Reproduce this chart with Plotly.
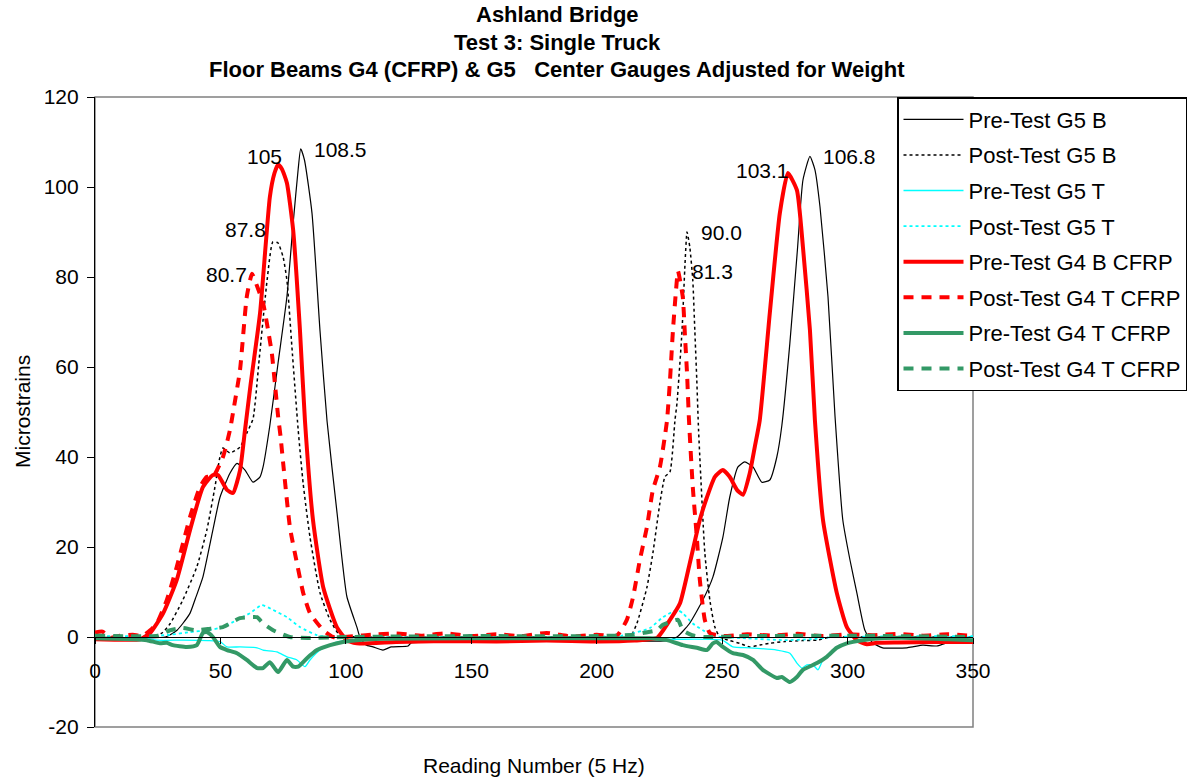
import plotly.graph_objects as go

# ---- Readings (5 Hz) and strains, one list pair per gauge ----
pre_g5b_x = [0, 10, 20, 28, 30, 32.7, 35, 37.9, 40, 43, 47, 49.8, 53.8, 56.6, 59.8, 63, 65.8, 67, 69.7, 73,
             76.5, 79, 81, 82, 83.5, 86.5, 89.7, 92.5, 96.5, 100.4, 104.4, 105.6, 108, 110.8, 114.8, 118,
             124.8, 126, 132, 140, 150, 160, 180, 200, 215, 228, 232, 237, 242.3, 246.3, 250.3, 253, 256.3,
             259, 262.3, 265.8, 269, 271.8, 273.8, 277, 280, 282.2, 285, 287, 289, 292.2, 295, 298.1, 301,
             303.7, 306.9, 310, 314, 323.6, 326, 330, 335.6, 339.6, 344.8, 348.7, 350]
pre_g5b_y = [-0.3, -0.3, -0.2, 0, 0.5, 1.5, 3, 5.3, 8.5, 13.3, 23.8, 31, 36.4, 38.6, 37.1, 34.4, 35.6, 37.8, 47, 61,
             75.6, 92, 104, 108.5, 106, 94.2, 68, 48, 27.5, 9, 2.2, 0, -1.8, -2.2, -2.9, -2.2,
             -2.0, -1.3, -1.1, -0.9, -0.7, -0.5, -0.4, -0.6, -0.9, -0.8, 0, 3, 8.2, 13.3, 22.2, 31, 37.8,
             38.9, 37.8, 34.4, 34.9, 40, 47, 65.3, 86, 101.5, 106.8, 103.8, 95.6, 75.6, 49, 26, 17,
             9.8, 1.5, -1.3, -2.4, -2.4, -2.2, -1.8, -2.0, -1.3, -1.3, -1.1, -1.2]

post_g5b_x = [0, 20, 24.6, 27, 30, 35, 40.6, 44.6, 47.8, 49.8, 51, 53.8, 57.8, 60.5, 63, 65.5, 68.6, 70.9, 72.9,
              75, 76.5, 78.5, 81, 83, 85.7, 89.7, 93.7, 97.6, 105, 150, 200, 213.2, 216, 220, 222.4, 225.2,
              227.2, 229.2, 231.2, 232, 234, 235.2, 236, 237.1, 238.3, 239.1, 239.9, 240.6, 243.1, 245.1,
              247.1, 249.1, 253, 257, 261, 265, 269, 275, 282, 287.8, 293, 300, 350]
post_g5b_y = [0, 0, 0.3, 1, 3, 8.2, 15.6, 23.8, 33.3, 40, 42, 40.9, 42.2, 45.3, 48.5, 62, 79.3, 87.8, 87.6,
              84.4, 79.3, 64.4, 46, 34, 22.2, 9.8, 3.8, 0.4, 0, 0, 0, 0, 3, 11, 18.7, 29.8,
              35.6, 36.7, 48.2, 52, 68, 83, 90.0, 86.7, 79.3, 68.2, 57, 46, 18.7, 8.2,
              2.2, 0, -0.8, -1.4, -2.2, -1.8, -1.4, -1.0, -0.8, -0.7, 0, 0, 0]

pre_g5t_x = [0, 20, 24.6, 35, 45, 49.8, 52.6, 57.8, 64.6, 67, 72.5, 76.5, 80.5, 83.7, 85.7, 89.7, 94.9, 100.4,
             110, 150, 200, 230, 250, 254.3, 261, 271.8, 277, 279.8, 281.8, 283.8, 286.2, 288.2, 290.2,
             294.1, 299.7, 305, 320, 350]
pre_g5t_y = [-0.2, -0.2, -0.7, -0.7, -0.8, -1.0, -2.2, -2.2, -2.4, -2.9, -3.3, -4.4, -5.1, -6.6, -5.1, -2.9, -1.4, -0.7,
             -0.3, -0.2, -0.2, -0.5, -0.7, -2.2, -2.4, -2.9, -3.6, -5.8, -6.9, -6.2, -6.2, -7.3, -5.1,
             -2.9, -1.4, -0.7, -0.2, 0]

post_g5t_x = [0, 20, 30, 37.9, 45, 51, 56.6, 61.8, 66.5, 71, 76.5, 81.7, 88.5, 95, 150, 210, 221.2, 226.4,
              232, 234.3, 238.3, 242.3, 247, 260, 275, 285, 295, 350]
post_g5t_y = [0.2, 0.2, 0.5, 1.1, 1.5, 2.2, 3.8, 5.3, 7.1, 6, 4.4, 2.2, 0.4, 0, 0, 0.3, 2, 4.4,
              6, 5.3, 3, 1.5, 0.2, -0.3, -0.7, -0.5, 0, 0.2]

pre_g4b_x = [0, 10, 18, 22, 27.2, 32.6, 37.9, 43, 47, 49, 52.6, 55, 57.8, 59.8, 62, 65.8, 69.7, 71.5, 73,
             74.5, 76.5, 79, 81.7, 83.7, 86.9, 91, 96.4, 100.4, 104.4, 120, 140, 160, 180, 200, 215, 224,
             229.2, 233.2, 237.1, 241.1, 243.9, 247.1, 250.3, 253, 255.9, 258.3, 261, 263, 265, 269, 273,
             276.2, 279.8, 282.2, 285, 287, 290.2, 295.7, 299.7, 303.7, 307.7, 311.6, 320, 335, 350]
pre_g4b_y = [-0.5, -0.6, -0.5, 0.9, 5.3, 12.7, 23.8, 33.3, 36, 36, 32.7, 32, 37, 46, 56, 72, 97.8, 103, 105.0,
             104, 100.9, 90.4, 68.2, 48, 26, 11, 2.2, -0.7, -1.4, -1.1, -0.9, -1.0, -0.8, -1.0, -0.8, -0.2,
             3.8, 7.5, 16.4, 26, 31, 35.6, 37.1, 35.6, 32.7, 31.6, 36.4, 42.2, 48.2, 72, 94.2,
             103.1, 99.3, 86.7, 68.2, 48, 26, 9.8, 2.2, -0.7, -1.6, -1.3, -1.2, -1.1, -1.1]

post_g4t_red_x = [0, 3, 6, 10, 15, 19, 22, 24.6, 28.6, 32.6, 37.9, 41.8, 44.6, 47, 51, 53.8, 55, 57.8, 60.5,
                  62.6, 64.6, 67, 69, 70.5, 71.7, 73, 74, 75, 77.7, 80.5, 83, 85.7, 91, 95, 110, 120, 130,
                  140, 150, 160, 170, 180, 190, 200, 208, 212, 214.5, 217.2, 220, 222.4, 225.2, 228, 229.2,
                  230.4, 231.6, 232.4, 234.3, 235.2, 236, 236.8, 238.3, 239.9, 241.1, 243.1, 245.1, 250,
                  260, 270, 280, 290, 300, 310, 320, 330, 340, 350]
post_g4t_red_y = [1.0, 1.2, -0.2, 0.3, 0.5, 0.3, 1.5, 3, 8.2, 15.6, 26.7, 33.3, 35.6, 35.6, 40, 46, 49.8, 59.3, 75.6,
                  80.7, 78, 74.2, 68.2, 63, 56.4, 49, 44.4, 38.7, 24.4, 16.4, 9.8, 5.3, 1.5, 0, 0.5, 0.8, 0.3,
                  0.8, 0.2, 0.6, 0.2, 0.9, 0.1, 0.5, 0.3, 3.8, 8.9, 17.1, 24.4, 32.7, 37.8, 48, 57,
                  68.2, 77, 81.3, 75.6, 66.7, 58.7, 48, 33.3, 22.2, 12.7, 3.8, 0.9, 0.2,
                  0.6, 0.3, 0.7, 0.2, 0.6, 0.4, 0.7, 0.3, 0.6, 0.2]

pre_g4t_x = [0, 15, 20.7, 25.9, 28.6, 31, 36.6, 40.6, 43, 44.6, 47, 49.8, 52.6, 56.6, 60.5, 64.6, 67, 69.7, 73,
             76.5, 79, 81, 84.5, 88.5, 93.7, 98.8, 104.4, 115, 150, 200, 221, 228, 234.3, 239.9, 243.9,
             246.3, 247.8, 250.3, 254.3, 258.3, 262.3, 266.2, 271.8, 273.8, 277, 279.8, 282.2, 287.8,
             291.7, 295.7, 299.7, 306, 313, 325, 340, 350]
pre_g4t_y = [-0.3, -0.5, -0.7, -1.4, -1.3, -1.8, -2.2, -1.8, 0.9, 1.1, 0, -2.2, -2.9, -3.6, -5.1, -6.9, -6.9, -5.6, -7.8,
             -5.1, -6.6, -6.6, -4.7, -2.9, -1.8, -1.1, -0.7, -0.4, -0.3, -0.3, -0.3, -0.7, -1.8, -2.4, -2.9,
             -1.4, -1.1, -2.2, -3.6, -4.0, -5.1, -7.3, -9.1, -8.9, -10.0, -8.9, -7.3, -5.8,
             -4.4, -2.4, -1.4, -0.7, -0.3, -0.2, -0.5, -0.7]

post_g4t_green_x = [0, 25, 30, 35, 40, 45, 51, 57.8, 64.6, 67, 71, 77.7, 85, 100, 150, 200, 215, 218.4, 224,
                    226.4, 232.4, 234.3, 238, 243, 260, 300, 350]
post_g4t_green_y = [0.3, 0.3, 1.5, 2, 1.5, 1.8, 2.2, 4.2, 4.4, 3, 1.5, 0, -0.2, 0, 0.2, 0.2, 0.5, 0.9, 1.5,
                    2.7, 3.8, 1.5, 0.4, 0, 0.2, 0.3, 0]

series_names = ["Pre-Test G5 B", "Post-Test G5 B", "Pre-Test G5 T", "Post-Test G5 T",
                "Pre-Test G4 B CFRP", "Post-Test G4 T CFRP", "Pre-Test G4 T CFRP", "Post-Test G4 T CFRP"]

y_ticks = [-20, 0, 20, 40, 60, 80, 100, 120]

# peak labels: (series index, reading of labelled point, decimals, x offset px, y offset px)
peak_labels = [
    (0, 82, 1, 40, -1), (4, 73, 0, -14, 8), (1, 70.9, 1, -27, 12), (5, 62.6, 1, -26, -1),
    (1, 236, 1, 34, 0), (5, 232.4, 1, 35, 0), (4, 276.2, 1, -25, 3), (0, 285, 1, 40, 0),
]

FONT = "Liberation Sans, Arial, sans-serif"
FS = 21
RED = "#FF0000"
GREEN = "#339966"
CYAN = "#00FFFF"

data = [
    (pre_g5b_x, pre_g5b_y, dict(color="black", width=1.2, dash="solid")),
    (post_g5b_x, post_g5b_y, dict(color="black", width=1.5, dash="dot")),
    (pre_g5t_x, pre_g5t_y, dict(color=CYAN, width=1.3, dash="solid")),
    (post_g5t_x, post_g5t_y, dict(color=CYAN, width=1.8, dash="dot")),
    (pre_g4b_x, pre_g4b_y, dict(color=RED, width=4, dash="solid")),
    (post_g4t_red_x, post_g4t_red_y, dict(color=RED, width=4, dash="10px,8px")),
    (pre_g4t_x, pre_g4t_y, dict(color=GREEN, width=4, dash="solid")),
    (post_g4t_green_x, post_g4t_green_y, dict(color=GREEN, width=4, dash="10px,8px")),
]

fig = go.Figure()
for i, (xs, ys, line) in enumerate(data):
    fig.add_trace(go.Scatter(x=xs, y=ys, mode="lines", name=series_names[i],
                             line=dict(shape="spline", smoothing=0.5, **line),
                             legendgroup=f"g{i}"))

for si, xv, dec, dx, dy in peak_labels:
    xs, ys, _ = data[si]
    k = xs.index(xv)
    yv = ys[k]
    fig.add_annotation(x=xv, y=yv, text=f"{yv:.{dec}f}", showarrow=False,
                       xshift=dx, yshift=dy, font=dict(size=FS, color="black", family=FONT))

# chart titles
for txt, py in [("Ashland Bridge", 14), ("Test 3: Single Truck", 42),
                ("Floor Beams G4 (CFRP) & G5   Center Gauges Adjusted for Weight", 70)]:
    fig.add_annotation(x=(557 - 95) / 878, y=(727 - py) / 630, xref="paper", yref="paper",
                       text=f"<b>{txt}</b>", showarrow=False, xanchor="center", yanchor="middle",
                       font=dict(size=22, color="black", family=FONT))

fig.add_annotation(x=(534 - 95) / 878, y=(727 - 765) / 630, xref="paper", yref="paper",
                   text="Reading Number (5 Hz)", showarrow=False, xanchor="center", yanchor="middle",
                   font=dict(size=FS, color="black", family=FONT))
fig.add_annotation(x=(22 - 95) / 878, y=0.5, xref="paper", yref="paper", textangle=-90,
                   text="Microstrains", showarrow=False, xanchor="center", yanchor="middle",
                   font=dict(size=FS, color="black", family=FONT))

# plot-area frame
fig.add_shape(type="rect", xref="paper", yref="paper", x0=0, y0=0, x1=1, y1=1,
              line=dict(color="#808080", width=1.5), layer="below")

fig.update_layout(
    width=1194, height=777,
    margin=dict(l=95, r=221, t=97, b=50, autoexpand=False),
    paper_bgcolor="white", plot_bgcolor="white",
    font=dict(family=FONT, size=FS, color="black"),
    showlegend=True,
    legend=dict(x=(897 - 95) / 878, y=1.0, xanchor="left", yanchor="top",
                bgcolor="white", bordercolor="black", borderwidth=1.5,
                font=dict(size=22, family=FONT), tracegroupgap=4, itemwidth=60),
    xaxis=dict(range=[0, 350], dtick=50, tick0=0, anchor="free", position=20 / 140,
               showline=True, linecolor="black", linewidth=1, ticks="outside", ticklen=6,
               tickcolor="black", showgrid=False, zeroline=False, ticklabelstandoff=9,
               tickfont=dict(size=FS, family=FONT)),
    yaxis=dict(range=[-20, 120], tickvals=y_ticks, ticktext=[str(v) for v in y_ticks],
               showline=True, linecolor="black", linewidth=1.2,
               ticks="outside", ticklen=7, tickcolor="black", showgrid=False, zeroline=False,
               ticklabelstandoff=4, tickfont=dict(size=FS, family=FONT)),
)

fig.write_html("out.html")
